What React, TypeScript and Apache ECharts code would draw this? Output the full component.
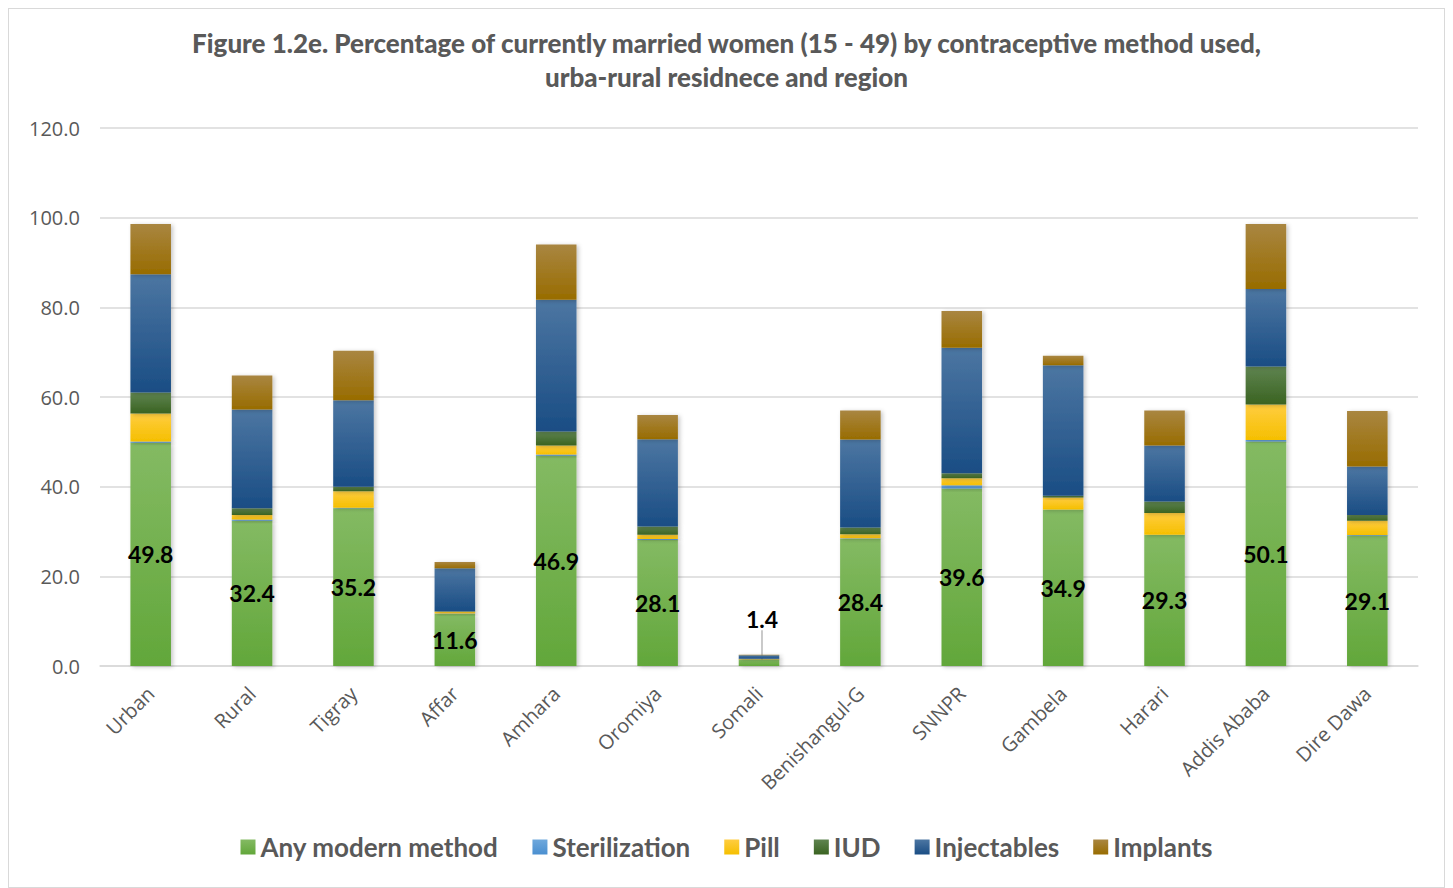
import React, { useEffect, useRef } from "react";
import * as echarts from "echarts";

const categories = ["Urban", "Rural", "Tigray", "Affar", "Amhara", "Oromiya", "Somali", "Benishangul-G", "SNNPR", "Gambela", "Harari", "Addis Ababa", "Dire Dawa"];
const anyModern = [49.8, 32.4, 35.2, 11.6, 46.9, 28.1, 1.4, 28.4, 39.6, 34.9, 29.3, 50.1, 29.1];
const sterilization = [0.3, 0.3, 0.1, 0.1, 0.3, 0.2, 0.0, 0.1, 0.7, 0.0, 0.0, 0.3, 0.1];
const pill = [6.2, 1.0, 3.7, 0.4, 2.0, 1.0, 0.1, 0.9, 1.6, 2.7, 4.8, 7.9, 3.2];
const iud = [4.7, 1.5, 1.0, 0.1, 3.1, 1.8, 0.1, 1.5, 1.1, 0.4, 2.6, 8.5, 1.3];
const injectables = [26.4, 22.0, 19.3, 9.6, 29.4, 19.5, 0.8, 19.6, 28.0, 29.1, 12.5, 17.3, 10.8];
const implants = [11.2, 7.6, 11.0, 1.4, 12.3, 5.4, 0.1, 6.5, 8.2, 2.1, 7.8, 14.5, 12.4];
const yTicks = [0, 20, 40, 60, 80, 100, 120];

const grad = (top: string, bottom: string) =>
  new echarts.graphic.LinearGradient(0, 0, 0, 1, [
    { offset: 0, color: top },
    { offset: 1, color: bottom },
  ]);

export default function App() {
  const ref = useRef<HTMLDivElement>(null);
  useEffect(() => {
    if (!ref.current) return;
    const chart = echarts.init(ref.current, null, { renderer: "svg" });
    const font = "Lato, 'Open Sans', sans-serif";
    const axisFont = "'Open Sans', Lato, sans-serif";
    const shadow = { shadowColor: "rgba(0,0,0,0.22)", shadowBlur: 4, shadowOffsetX: 2, shadowOffsetY: 1 };
    const mk = (name: string, data: number[], top: string, bottom: string, extra: any = {}) => ({
      name,
      type: "bar",
      stack: "total",
      data,
      barWidth: "40%",
      itemStyle: { color: grad(top, bottom), ...shadow },
      emphasis: { disabled: true },
      ...extra,
    });
    chart.setOption({
      animation: false,
      textStyle: { fontFamily: font },
      title: {
        text: "Figure 1.2e. Percentage of currently married women (15 - 49) by contraceptive method used,\nurba-rural residnece and region",
        left: "center",
        top: 12,
        textStyle: { fontFamily: font, fontSize: 26, fontWeight: 900, color: "#595959", lineHeight: 34 },
      },
      legend: {
        bottom: 22,
        left: "center",
        itemWidth: 15,
        itemHeight: 15,
        itemGap: 34,
        icon: "rect",
        textStyle: { fontFamily: font, fontSize: 26, fontWeight: "bold", color: "#595959" },
        data: ["Any modern method", "Sterilization", "Pill", "IUD", "Injectables", "Implants"],
      },
      grid: { left: 91, right: 26, top: 119, bottom: 221, containLabel: false },
      xAxis: {
        type: "category",
        data: categories,
        axisTick: { show: false },
        axisLine: { lineStyle: { color: "#d9d9d9", width: 1.5 } },
        axisLabel: { rotate: 45, fontSize: 20, color: "#595959", margin: 24, interval: 0, fontFamily: axisFont },
      },
      yAxis: {
        type: "value",
        min: yTicks[0],
        max: yTicks[yTicks.length - 1],
        interval: 20,
        axisLabel: { fontSize: 20, color: "#595959", margin: 20, formatter: (v: number) => v.toFixed(1), fontFamily: axisFont },
        splitLine: { lineStyle: { color: "#d9d9d9", width: 1.5 } },
        axisLine: { show: false },
        axisTick: { show: false },
      },
      series: [
        mk("Any modern method", anyModern, "#84ba63", "#62a73a", {
          label: {
            show: true,
            position: "inside",
            fontSize: 23,
            fontWeight: "bold",
            color: "#000",
            fontFamily: font,
            formatter: (p: any) => p.value.toFixed(1),
          },
          labelLayout: (p: any) => (p.dataIndex === 6 ? { dy: -44, dx: 3 } : {}),
          labelLine: { show: true, lineStyle: { color: "#a6a6a6", width: 1.2 } },
        }),
        mk("Sterilization", sterilization, "#6fa8dc", "#4a8fd0"),
        mk("Pill", pill, "#ffcd40", "#f5bf00"),
        mk("IUD", iud, "#5f8450", "#3a6321"),
        mk("Injectables", injectables, "#4c76a2", "#1a4d84"),
        mk("Implants", implants, "#a98641", "#986c00"),
      ],
    });
    return () => chart.dispose();
  }, []);
  return (
    <div
      ref={ref}
      style={{ width: 1437, height: 880, boxSizing: "border-box", border: "1px solid #d9d9d9", background: "#fff" }}
    />
  );
}
